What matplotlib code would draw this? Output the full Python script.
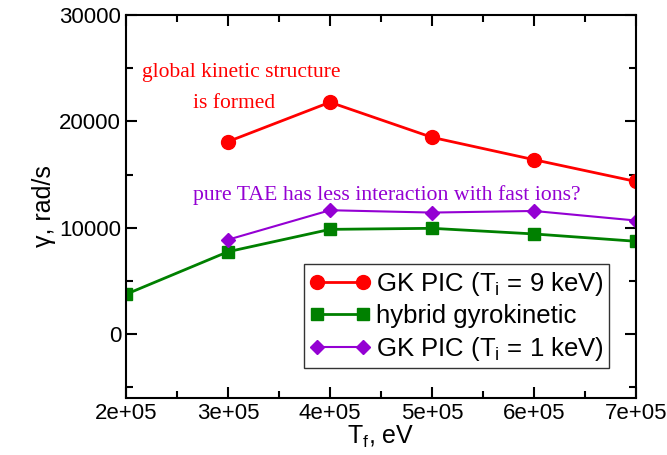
import matplotlib
matplotlib.use("Agg")
import matplotlib.pyplot as plt
from matplotlib.ticker import MultipleLocator, FuncFormatter

# fast ion temperature, eV
tf_gk9 = [3e5, 4e5, 5e5, 6e5, 7e5]
gamma_gk9 = [18100, 21800, 18500, 16400, 14350]

tf_hybrid = [2e5, 3e5, 4e5, 5e5, 6e5, 7e5]
gamma_hybrid = [3750, 7750, 9850, 9950, 9420, 8730]

tf_gk1 = [3e5, 4e5, 5e5, 6e5, 7e5]
gamma_gk1 = [8880, 11650, 11430, 11580, 10680]

plt.rcParams['font.family'] = ['Liberation Sans', 'DejaVu Sans']
plt.rcParams['mathtext.fontset'] = 'custom'
plt.rcParams['mathtext.rm'] = 'Liberation Sans'
plt.rcParams['mathtext.it'] = 'Liberation Sans'

fig = plt.figure(figsize=(6.67, 4.55), dpi=100)
ax = fig.add_axes([126/667, 57/455, 510/667, 383/455])

ax.plot(tf_gk9, gamma_gk9, color='#ff0000', lw=2, marker='o', ms=10,
        label=r'GK PIC (T$_\mathregular{i}$ = 9 keV)')
ax.plot(tf_hybrid, gamma_hybrid, color='#008000', lw=2, marker='s', ms=8.5,
        label='hybrid gyrokinetic')
ax.plot(tf_gk1, gamma_gk1, color='#9400d3', lw=1.5, marker='D', ms=7.5,
        label=r'GK PIC (T$_\mathregular{i}$ = 1 keV)')

ax.set_xlim(2e5, 7e5)
ax.set_ylim(-6000, 30000)
ax.xaxis.set_major_locator(MultipleLocator(1e5))
ax.xaxis.set_minor_locator(MultipleLocator(5e4))
ax.yaxis.set_major_locator(MultipleLocator(10000))
ax.yaxis.set_minor_locator(MultipleLocator(5000))
ax.xaxis.set_major_formatter(FuncFormatter(lambda v, p: '%de+05' % round(v / 1e5)))
ax.tick_params(which='both', direction='in', top=True, right=True, labelsize=16, width=1.5)
ax.tick_params(which='major', length=8)
ax.tick_params(which='minor', length=5)
for s in ax.spines.values():
    s.set_linewidth(1.5)

ax.set_xlabel(r'T$_\mathregular{f}$, eV', fontsize=18, labelpad=0)
ax.set_ylabel('γ, rad/s', fontsize=18, labelpad=2)

serif = ['Liberation Serif', 'DejaVu Serif']
ax.text(2.155e5, 24600, 'global kinetic structure', color='#ff0000', fontsize=15.5,
        family=serif, va='center')
ax.text(2.655e5, 21650, 'is formed', color='#ff0000', fontsize=15.5,
        family=serif, va='center')
ax.text(2.655e5, 13050, 'pure TAE has less interaction with fast ions?', color='#9400d3',
        fontsize=15.7, family=serif, va='center')

leg = ax.legend(loc='lower right', bbox_to_anchor=(0.947, 0.078), numpoints=2,
                fontsize=18.5, frameon=True, fancybox=False, handlelength=2.4,
                handletextpad=0.2, borderpad=0.2, labelspacing=0.26,
                borderaxespad=0)
leg.get_frame().set_edgecolor('black')
leg.get_frame().set_linewidth(1.0)

fig.savefig('out.png', dpi=100)
